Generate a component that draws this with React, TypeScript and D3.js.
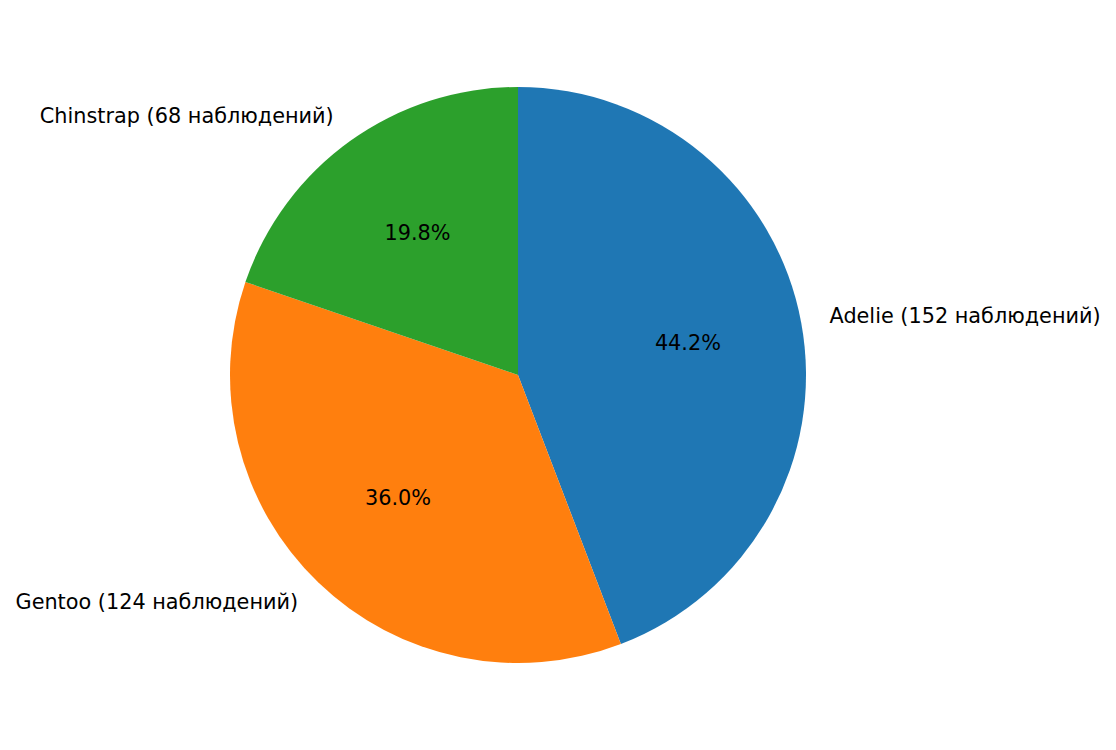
import React from "react";
import * as d3 from "d3";

const species = ["Adelie", "Gentoo", "Chinstrap"];
const counts = [152, 124, 68];
const colors = ["#1f77b4", "#ff7f0e", "#2ca02c"];

const W = 1116;
const H = 750;
const CX = 518;
const CY = 375;
const R = 288;

export default function App() {
  const total = d3.sum(counts);
  const pie = d3
    .pie<number>()
    .sort(null)
    .startAngle(0)
    .endAngle(2 * Math.PI)
    .value((d) => d);
  const arcs = pie(counts);
  const arcGen = d3.arc<d3.PieArcDatum<number>>().innerRadius(0).outerRadius(R);
  const font = "'DejaVu Sans', sans-serif";
  const fs = 20.8;

  return (
    <svg
      width={W}
      height={H}
      style={{ position: "absolute", left: 0, top: 0, background: "#fff" }}
      fontFamily={font}
    >
      <rect width={W} height={H} fill="#fff" />
      <g transform={`translate(${CX},${CY})`}>
        {arcs.map((a, i) => (
          <path key={i} d={arcGen(a) || ""} fill={colors[i]} />
        ))}
        {arcs.map((a, i) => {
          const mid = (a.startAngle + a.endAngle) / 2;
          const lx = 1.1 * R * Math.sin(mid);
          const ly = -1.1 * R * Math.cos(mid);
          const px = 0.6 * R * Math.sin(mid);
          const py = -0.6 * R * Math.cos(mid);
          const pct = ((counts[i] / total) * 100).toFixed(1) + "%";
          return (
            <g key={"t" + i}>
              <text
                x={lx}
                y={ly - 1}
                fontSize={fs}
                textAnchor={lx > 0 ? "start" : "end"}
                dominantBaseline="central"
                fill="#000"
              >
                {`${species[i]} (${counts[i]} наблюдений)`}
              </text>
              <text
                x={px}
                y={py - 1}
                fontSize={fs}
                textAnchor="middle"
                dominantBaseline="central"
                fill="#000"
              >
                {pct}
              </text>
            </g>
          );
        })}
      </g>
    </svg>
  );
}
